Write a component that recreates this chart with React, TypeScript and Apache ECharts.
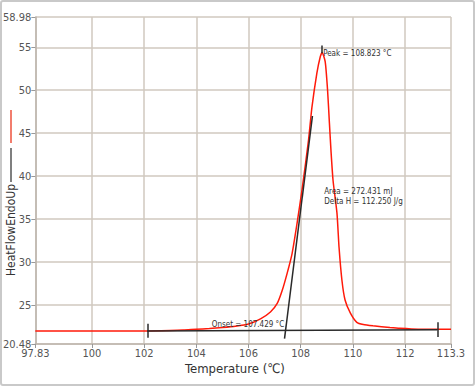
import React, { useEffect, useRef } from "react";
import * as echarts from "echarts";

// Axis ranges and tick labels
const xMin = 97.83;
const xMax = 113.76;
const xTicks = [97.83, 100, 102, 104, 106, 108, 110, 112, 113.76];
const xMaxLabel = "113.3";
const yMin = 20.48;
const yMax = 58.52;
const yTicks = [20.48, 25, 30, 35, 40, 45, 50, 55, 58.52];
const yMaxLabel = "58.98";

// Heat flow curve (temperature °C, heat flow)
const curveX = [
  97.83, 100, 102, 103, 103.5, 104, 104.5, 105, 105.5, 106, 106.46, 106.84, 107.1, 107.29,
  107.48, 107.67, 107.86, 108.05, 108.3, 108.43, 108.62, 108.75, 108.823, 108.94, 109.03,
  109.1, 109.16, 109.24, 109.39, 109.47, 109.58, 109.7, 109.9, 110.15, 110.4, 110.77, 111.42,
  111.8, 112.5, 113.76,
];
const curveY = [
  22.0, 22.0, 22.0, 22.05, 22.1, 22.2, 22.28, 22.4, 22.55, 22.8, 23.4, 24.2, 25.2, 26.7,
  28.7, 31.0, 34.5, 38.4, 44.2, 48.0, 52.0, 53.9, 54.4, 53.3, 50.0,
  46.2, 43.0, 39.5, 35.7, 31.7, 27.9, 25.6, 24.1, 23.0, 22.75, 22.6, 22.4,
  22.3, 22.2, 22.2,
];

// Analysis lines
const baselineX = [102.12, 113.24];
const baselineY = [22.0, 22.15];
const tangentX = [107.38, 108.45];
const tangentY = [21.1, 47.0];
const peakT = 108.823;
const onsetT = 107.429;

const peakText = "Peak = 108.823 °C";
const onsetText = "Onset = 107.429 °C";
const areaText = "Area = 272.431 mJ\nDelta H = 112.250 J/g";

const FONT = "'Liberation Sans Narrow', 'DejaVu Sans Condensed', sans-serif";

export default function App() {
  const ref = useRef<HTMLDivElement>(null);
  useEffect(() => {
    document.body.style.margin = "0";
    const chart = echarts.init(ref.current!, null, { renderer: "svg" });
    const gridColor = "#d0c8bf";
    const labelColor = "#555";
    chart.setOption({
      animation: false,
      backgroundColor: "#fff",
      grid: { left: 34, right: 24, top: 17, bottom: 42, containLabel: false },
      xAxis: {
        type: "value",
        min: xMin,
        max: xMax,
        axisLine: { show: true, lineStyle: { color: "#bdb5ad", width: 1.5 } },
        axisTick: { show: true, customValues: xTicks, length: 4, lineStyle: { color: "#999" } },
        axisLabel: {
          customValues: xTicks,
          color: labelColor,
          fontSize: 11,
          fontFamily: FONT,
          margin: 4,
          formatter: (v: number) => (Math.abs(v - xMax) < 1e-6 ? xMaxLabel : String(v)),
        },
        splitLine: { show: true, lineStyle: { color: gridColor, width: 1.5 } },
      },
      yAxis: {
        type: "value",
        min: yMin,
        max: yMax,
        axisLine: { show: true, lineStyle: { color: "#bdb5ad", width: 1.5 } },
        axisTick: { show: true, customValues: yTicks, length: 4, lineStyle: { color: "#999" } },
        axisLabel: {
          customValues: yTicks,
          color: labelColor,
          fontSize: 11,
          fontFamily: FONT,
          margin: 4,
          formatter: (v: number) => (Math.abs(v - yMax) < 1e-6 ? yMaxLabel : String(v)),
        },
        splitLine: { show: true, lineStyle: { color: gridColor, width: 1.5 } },
      },
      series: [
        {
          type: "line",
          name: "HeatFlowEndoUp",
          data: curveX.map((x, i) => [x, curveY[i]]),
          showSymbol: false,
          symbol: "none",
          smooth: 0.2,
          lineStyle: { color: "#ff1a0a", width: 1.5 },
          markPoint: {
            symbol: "circle",
            symbolSize: 0,
            label: {
              show: true,
              color: "#333",
              fontSize: 8,
              fontFamily: FONT,
              lineHeight: 10,
            },
            data: [
              {
                coord: [108.86, 54.3],
                label: { position: "right", distance: 0, formatter: peakText },
              },
              {
                coord: [onsetT - 0.06, 22.8],
                label: { position: "left", distance: 0, formatter: onsetText },
              },
              {
                coord: [108.9, 37.6],
                label: { position: "right", distance: 0, formatter: areaText, align: "left" },
              },
            ],
          },
        },
        {
          type: "line",
          name: "baseline",
          data: baselineX.map((x, i) => [x, baselineY[i]]),
          symbol: "none",
          lineStyle: { color: "#2a2a2a", width: 1.5 },
          markLine: {
            silent: true,
            symbol: "none",
            label: { show: false },
            lineStyle: { color: "#2a2a2a", width: 1.5, type: "solid" },
            data: [
              [{ coord: [baselineX[0], 21.2] }, { coord: [baselineX[0], 22.85] }],
              [{ coord: [baselineX[1], 21.3] }, { coord: [baselineX[1], 23.0] }],
              [{ coord: [peakT, 54.3] }, { coord: [peakT, 55.2] }],
            ],
          },
        },
        {
          type: "line",
          name: "tangent",
          data: tangentX.map((x, i) => [x, tangentY[i]]),
          symbol: "none",
          lineStyle: { color: "#2a2a2a", width: 1.5 },
        },
      ],
      graphic: [
        {
          type: "rect",
          shape: { x: 1, y: 1, width: 473, height: 384, r: 2 },
          style: { fill: "none", stroke: "#c9c9c9", lineWidth: 2 },
          silent: true,
        },
        {
          type: "line",
          shape: { x1: 11, y1: 110, x2: 11, y2: 143 },
          style: { stroke: "#f27d6d", lineWidth: 2 },
        },
        {
          type: "line",
          shape: { x1: 11, y1: 148, x2: 11, y2: 182 },
          style: { stroke: "#555", lineWidth: 1.5 },
        },
        {
          type: "text",
          x: 11,
          y: 230,
          rotation: Math.PI / 2,
          style: {
            text: "HeatFlowEndoUp",
            fill: "#333",
            fontSize: 12,
            fontFamily: FONT,
            align: "center",
            verticalAlign: "middle",
          },
        },
        {
          type: "text",
          x: 235,
          y: 368,
          style: {
            text: "Temperature (℃)",
            fill: "#333",
            fontSize: 13,
            fontFamily: FONT,
            align: "center",
            verticalAlign: "middle",
          },
        },
      ],
    });
    return () => chart.dispose();
  }, []);
  return <div ref={ref} style={{ width: 475, height: 386 }} />;
}
